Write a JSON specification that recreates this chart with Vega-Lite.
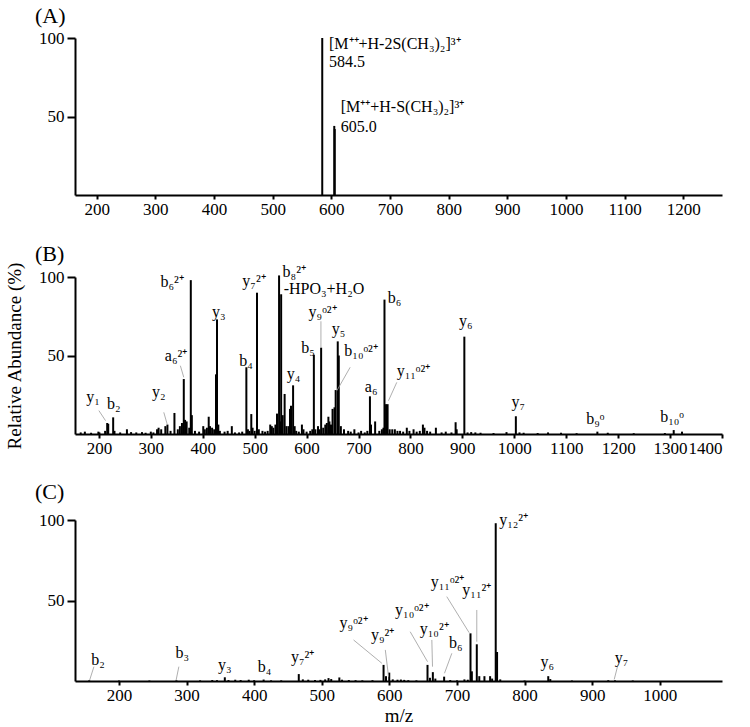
{
  "$schema": "https://vega.github.io/schema/vega-lite/v6.json",
  "padding": {"left": 5, "top": 5, "right": 5, "bottom": 0},
  "background": "white",
  "config": {
    "view": {"stroke": null},
    "font": "Liberation Serif",
    "axis": {"grid": false, "labelFont": "Liberation Serif", "labelFontSize": 17, "labelColor": "black", "domainColor": "black", "tickColor": "black", "domainWidth": 2, "tickWidth": 2, "titleFont": "Liberation Serif", "titleFontWeight": "normal", "titleColor": "black", "labelOverlap": false, "format": "d"},
    "axisX": {"tickSize": 4, "labelPadding": 2},
    "axisY": {"tickSize": 8, "labelPadding": 3},
    "title": {"font": "Liberation Serif", "fontWeight": "normal", "fontSize": 22, "color": "black", "anchor": "start", "frame": "group", "dx": -40, "baseline": "bottom"}
  },
  "datasets": {
    "peaksA": [
      {"mz": 584.5, "ab": 100}, {"mz": 605.0, "ab": 44}, {"mz": 605.8, "ab": 42}
    ],
    "labelsA": [
      {"mz": 596, "ab": 96, "t": "[M⁺⁺+H-2S(CH₃)₂]³⁺"},
      {"mz": 596, "ab": 84.5, "t": "584.5"},
      {"mz": 616, "ab": 56, "t": "[M⁺⁺+H-S(CH₃)₂]³⁺"},
      {"mz": 616, "ab": 43, "t": "605.0"}
    ],
    "peaksB": [
      {"mz": 165, "ab": 1}, {"mz": 173, "ab": 1.5}, {"mz": 185, "ab": 0.8}, {"mz": 199, "ab": 1.5}, {"mz": 201, "ab": 1},
      {"mz": 212, "ab": 2}, {"mz": 216, "ab": 7}, {"mz": 218, "ab": 6.5}, {"mz": 227.5, "ab": 10.6}, {"mz": 230, "ab": 2},
      {"mz": 241, "ab": 1}, {"mz": 254, "ab": 3}, {"mz": 262, "ab": 1.2}, {"mz": 272, "ab": 1}, {"mz": 283, "ab": 1.2},
      {"mz": 290, "ab": 0.8}, {"mz": 300, "ab": 1.5}, {"mz": 305, "ab": 1}, {"mz": 312, "ab": 3}, {"mz": 315, "ab": 4},
      {"mz": 320, "ab": 3}, {"mz": 328, "ab": 5}, {"mz": 332, "ab": 6}, {"mz": 338, "ab": 2}, {"mz": 345.5, "ab": 13.4},
      {"mz": 352, "ab": 3}, {"mz": 356, "ab": 5}, {"mz": 360, "ab": 7}, {"mz": 363.5, "ab": 35}, {"mz": 366, "ab": 9},
      {"mz": 369, "ab": 8}, {"mz": 374, "ab": 4}, {"mz": 377, "ab": 98}, {"mz": 379, "ab": 12}, {"mz": 385, "ab": 2},
      {"mz": 393, "ab": 1.5}, {"mz": 401, "ab": 5}, {"mz": 404, "ab": 3}, {"mz": 408, "ab": 4}, {"mz": 411.5, "ab": 11},
      {"mz": 414, "ab": 5}, {"mz": 418, "ab": 4}, {"mz": 422, "ab": 3}, {"mz": 425.5, "ab": 38}, {"mz": 427.5, "ab": 73},
      {"mz": 430, "ab": 6}, {"mz": 433, "ab": 2}, {"mz": 442, "ab": 1.5}, {"mz": 448, "ab": 2}, {"mz": 456, "ab": 5},
      {"mz": 462, "ab": 1}, {"mz": 470, "ab": 1}, {"mz": 476, "ab": 1.5}, {"mz": 484, "ab": 42.5}, {"mz": 487, "ab": 3},
      {"mz": 490, "ab": 2}, {"mz": 493.5, "ab": 12.7}, {"mz": 496, "ab": 4}, {"mz": 500, "ab": 2}, {"mz": 504.5, "ab": 90},
      {"mz": 508, "ab": 3}, {"mz": 515, "ab": 2}, {"mz": 520, "ab": 1.5}, {"mz": 525, "ab": 2}, {"mz": 530, "ab": 6},
      {"mz": 533, "ab": 5}, {"mz": 536, "ab": 4}, {"mz": 540, "ab": 6}, {"mz": 543, "ab": 13}, {"mz": 547, "ab": 101},
      {"mz": 549, "ab": 8}, {"mz": 551, "ab": 89}, {"mz": 554, "ab": 12}, {"mz": 557.7, "ab": 25.5}, {"mz": 561, "ab": 5},
      {"mz": 565, "ab": 5}, {"mz": 568, "ab": 16}, {"mz": 570, "ab": 18}, {"mz": 574, "ab": 31}, {"mz": 577, "ab": 5},
      {"mz": 580, "ab": 2}, {"mz": 585, "ab": 1.5}, {"mz": 591, "ab": 6}, {"mz": 594, "ab": 3}, {"mz": 600, "ab": 1.5},
      {"mz": 607, "ab": 2}, {"mz": 611, "ab": 3}, {"mz": 614, "ab": 50.5}, {"mz": 617, "ab": 3}, {"mz": 622, "ab": 5},
      {"mz": 625, "ab": 3}, {"mz": 628, "ab": 55}, {"mz": 632, "ab": 4}, {"mz": 636, "ab": 6}, {"mz": 639, "ab": 7},
      {"mz": 642, "ab": 11}, {"mz": 644, "ab": 8}, {"mz": 647, "ab": 6}, {"mz": 650, "ab": 16}, {"mz": 653.8, "ab": 17},
      {"mz": 656, "ab": 28}, {"mz": 660, "ab": 59}, {"mz": 662, "ab": 50}, {"mz": 666, "ab": 5}, {"mz": 672, "ab": 3},
      {"mz": 680, "ab": 2}, {"mz": 685, "ab": 1.5}, {"mz": 692, "ab": 3}, {"mz": 700, "ab": 1}, {"mz": 705, "ab": 2},
      {"mz": 712, "ab": 1}, {"mz": 717, "ab": 2}, {"mz": 722, "ab": 24}, {"mz": 724, "ab": 6}, {"mz": 732, "ab": 8},
      {"mz": 740, "ab": 2}, {"mz": 745, "ab": 3}, {"mz": 748, "ab": 4}, {"mz": 750, "ab": 85.6}, {"mz": 753, "ab": 19},
      {"mz": 756, "ab": 19}, {"mz": 760, "ab": 3}, {"mz": 765, "ab": 3}, {"mz": 770, "ab": 3}, {"mz": 775, "ab": 2},
      {"mz": 780, "ab": 2}, {"mz": 786, "ab": 1.5}, {"mz": 793, "ab": 4}, {"mz": 798, "ab": 2}, {"mz": 806, "ab": 3},
      {"mz": 812, "ab": 1.5}, {"mz": 818, "ab": 2}, {"mz": 824, "ab": 6}, {"mz": 827, "ab": 4}, {"mz": 832, "ab": 2},
      {"mz": 838, "ab": 1.5}, {"mz": 849, "ab": 4}, {"mz": 860, "ab": 1}, {"mz": 868, "ab": 1.5}, {"mz": 879, "ab": 1},
      {"mz": 887, "ab": 7.5}, {"mz": 889, "ab": 3}, {"mz": 903.8, "ab": 62}, {"mz": 910, "ab": 1}, {"mz": 917, "ab": 1.2},
      {"mz": 925, "ab": 1}, {"mz": 935, "ab": 0.8}, {"mz": 960, "ab": 0.6}, {"mz": 985, "ab": 1.2}, {"mz": 1003, "ab": 11.3},
      {"mz": 1010, "ab": 1}, {"mz": 1018, "ab": 0.8}, {"mz": 1045, "ab": 0.6}, {"mz": 1065, "ab": 1}, {"mz": 1090, "ab": 0.8},
      {"mz": 1120, "ab": 0.5}, {"mz": 1160, "ab": 1.5}, {"mz": 1180, "ab": 0.8}, {"mz": 1230, "ab": 0.5}, {"mz": 1290, "ab": 0.6},
      {"mz": 1307, "ab": 2.5}, {"mz": 1323, "ab": 1.5}
    ],
    "labelsB": [
      {"mz": 188.5, "ab": 23.8, "t": "y₁"},
      {"mz": 228.8, "ab": 19.1, "t": "b₂"},
      {"mz": 315.4, "ab": 26.5, "t": "y₂"},
      {"mz": 348.7, "ab": 49.9, "t": "a₆²⁺"},
      {"mz": 341, "ab": 96.6, "t": "b₆²⁺"},
      {"mz": 430.8, "ab": 77.5, "t": "y₃"},
      {"mz": 483.3, "ab": 46.7, "t": "b₄"},
      {"mz": 498.7, "ab": 97.2, "t": "y₇²⁺"},
      {"mz": 630.8, "ab": 78, "t": "y₉ᵒ²⁺"},
      {"mz": 602.6, "ab": 55, "t": "b₅"},
      {"mz": 661.5, "ab": 66.9, "t": "y₅"},
      {"mz": 705, "ab": 52.6, "t": "b₁₀ᵒ²⁺"},
      {"mz": 575, "ab": 38.2, "t": "y₄"},
      {"mz": 724.4, "ab": 29.7, "t": "a₆"},
      {"mz": 906.4, "ab": 72.2, "t": "y₆"},
      {"mz": 805.8, "ab": 39.9, "t": "y₁₁ᵒ²⁺"},
      {"mz": 1007.7, "ab": 20.2, "t": "y₇"},
      {"mz": 1156, "ab": 9.6, "t": "b₉ᵒ"},
      {"mz": 1303.8, "ab": 11, "t": "b₁₀ᵒ"}
    ],
    "labelsBL": [
      {"mz": 553.8, "ab": 103, "t": "b₈²⁺"},
      {"mz": 555.8, "ab": 92.4, "t": "-HPO₃+H₂O"},
      {"mz": 756.3, "ab": 86.6, "t": "b₆"}
    ],
    "leadersB": [
      {"mz": 200, "ab": 14.9, "mz2": 212.8, "ab2": 8.5},
      {"mz": 325, "ab": 13.8, "mz2": 331.4, "ab2": 6.4},
      {"mz": 356.9, "ab": 43.5, "mz2": 363.5, "ab2": 36.1},
      {"mz": 627.6, "ab": 71.8, "mz2": 627.6, "ab2": 55.2},
      {"mz": 683.9, "ab": 42.5, "mz2": 658.3, "ab2": 27.6},
      {"mz": 773.7, "ab": 32.9, "mz2": 757.7, "ab2": 21.2}
    ],
    "peaksC": [
      {"mz": 156, "ab": 0.4}, {"mz": 200, "ab": 0.3}, {"mz": 245, "ab": 0.3}, {"mz": 285, "ab": 0.4}, {"mz": 320, "ab": 0.4},
      {"mz": 338, "ab": 0.6}, {"mz": 345, "ab": 0.5}, {"mz": 356.6, "ab": 2.3}, {"mz": 362, "ab": 0.6}, {"mz": 372, "ab": 0.8},
      {"mz": 380, "ab": 0.6}, {"mz": 392, "ab": 0.8}, {"mz": 400, "ab": 0.5}, {"mz": 414, "ab": 0.9}, {"mz": 425, "ab": 0.4},
      {"mz": 440, "ab": 0.4}, {"mz": 466, "ab": 4.3}, {"mz": 472, "ab": 1}, {"mz": 480, "ab": 0.8}, {"mz": 490, "ab": 0.6},
      {"mz": 498, "ab": 0.7}, {"mz": 505, "ab": 1}, {"mz": 510, "ab": 1.8}, {"mz": 514, "ab": 1.2}, {"mz": 526, "ab": 2.2},
      {"mz": 530, "ab": 0.8}, {"mz": 540, "ab": 0.6}, {"mz": 550, "ab": 0.5}, {"mz": 560, "ab": 0.4}, {"mz": 575, "ab": 0.5},
      {"mz": 591.4, "ab": 10}, {"mz": 595, "ab": 3}, {"mz": 599.8, "ab": 5.2}, {"mz": 605, "ab": 1}, {"mz": 612, "ab": 0.8},
      {"mz": 617, "ab": 0.9}, {"mz": 622, "ab": 0.7}, {"mz": 628, "ab": 0.5}, {"mz": 640, "ab": 0.4}, {"mz": 656.4, "ab": 10},
      {"mz": 660, "ab": 2}, {"mz": 664.3, "ab": 5.5}, {"mz": 668, "ab": 1.5}, {"mz": 681, "ab": 2.7}, {"mz": 690, "ab": 0.6},
      {"mz": 700, "ab": 0.4}, {"mz": 711, "ab": 1}, {"mz": 716, "ab": 0.8}, {"mz": 720, "ab": 29.6}, {"mz": 722, "ab": 6},
      {"mz": 729.3, "ab": 22.8}, {"mz": 733, "ab": 3}, {"mz": 740.6, "ab": 3}, {"mz": 749, "ab": 3}, {"mz": 752, "ab": 1.5},
      {"mz": 757.3, "ab": 98}, {"mz": 759.3, "ab": 18}, {"mz": 764, "ab": 1}, {"mz": 800, "ab": 0.3}, {"mz": 835, "ab": 3},
      {"mz": 838, "ab": 1.2}, {"mz": 870, "ab": 0.3}, {"mz": 923.8, "ab": 0.5}, {"mz": 933.7, "ab": 0.4}, {"mz": 960, "ab": 0.3}
    ],
    "labelsC": [
      {"mz": 169, "ab": 13, "t": "b₂"},
      {"mz": 293.5, "ab": 17.2, "t": "b₃"},
      {"mz": 356.6, "ab": 9.9, "t": "y₃"},
      {"mz": 415.2, "ab": 8.9, "t": "b₄"},
      {"mz": 471.8, "ab": 14.7, "t": "y₇²⁺"},
      {"mz": 547, "ab": 35.8, "t": "y₉ᵒ²⁺"},
      {"mz": 590, "ab": 28.6, "t": "y₉²⁺"},
      {"mz": 633.3, "ab": 44.1, "t": "y₁₀ᵒ²⁺"},
      {"mz": 666.3, "ab": 32.1, "t": "y₁₀²⁺"},
      {"mz": 698.3, "ab": 23.4, "t": "b₆"},
      {"mz": 686, "ab": 61.7, "t": "y₁₁ᵒ²⁺"},
      {"mz": 729.3, "ab": 56.5, "t": "y₁₁²⁺"},
      {"mz": 833.7, "ab": 11.6, "t": "y₆"},
      {"mz": 943.5, "ab": 14.5, "t": "y₇"}
    ],
    "labelsCL": [
      {"mz": 762.4, "ab": 100, "t": "y₁₂²⁺"}
    ],
    "leadersC": [
      {"mz": 163, "ab": 8.9, "mz2": 156.7, "ab2": 0.6},
      {"mz": 288.6, "ab": 8.9, "mz2": 284.6, "ab2": 0.6},
      {"mz": 547, "ab": 25.5, "mz2": 588.9, "ab2": 11},
      {"mz": 594, "ab": 19.3, "mz2": 598.8, "ab2": 2.7},
      {"mz": 630.8, "ab": 30.6, "mz2": 656.4, "ab2": 12},
      {"mz": 662.8, "ab": 25.5, "mz2": 663.8, "ab2": 8.9},
      {"mz": 692.4, "ab": 17.2, "mz2": 681.5, "ab2": 4.8},
      {"mz": 684.9, "ab": 52.4, "mz2": 718, "ab2": 30},
      {"mz": 729.3, "ab": 44.1, "mz2": 729.3, "ab2": 24.4},
      {"mz": 937.4, "ab": 8.9, "mz2": 932.6, "ab2": 1}
    ]
  },
  "spacing": 25,
  "vconcat": [
    {
      "width": 647, "height": 157,
      "title": {"text": "(A)", "offset": 1},
      "encoding": {
        "x": {"field": "mz", "type": "quantitative", "title": null, "scale": {"domain": [163, 1266], "nice": false}, "axis": {"values": [200, 300, 400, 500, 600, 700, 800, 900, 1000, 1100, 1200]}},
        "y": {"field": "ab", "type": "quantitative", "title": null, "scale": {"domain": [0, 100], "nice": false}, "axis": {"values": [50, 100]}}
      },
      "layer": [
        {
          "data": {"name": "peaksA"},
          "mark": {"type": "rule", "color": "black", "strokeWidth": 2},
          "encoding": {"y2": {"datum": 0}}
        },
        {
          "data": {"name": "labelsA"},
          "mark": {"type": "text", "align": "left", "baseline": "middle", "fontSize": 16, "color": "black", "font": "Liberation Serif"},
          "encoding": {"text": {"field": "t"}}
        }
      ]
    },
    {
      "width": 647, "height": 157,
      "title": {"text": "(B)", "offset": -4},
      "encoding": {
        "x": {"field": "mz", "type": "quantitative", "title": null, "scale": {"domain": [154, 1400], "nice": false}, "axis": {"values": [200, 300, 400, 500, 600, 700, 800, 900, 1000, 1100, 1200, 1300, 1400]}},
        "y": {"field": "ab", "type": "quantitative", "title": "Relative Abundance (%)", "scale": {"domain": [0, 100], "nice": false}, "axis": {"values": [50, 100], "titleFontSize": 19, "titlePadding": 14}}
      },
      "layer": [
        {
          "data": {"name": "peaksB"},
          "mark": {"type": "rule", "color": "black", "strokeWidth": 2},
          "encoding": {"y2": {"datum": 0}}
        },
        {
          "data": {"name": "leadersB"},
          "mark": {"type": "rule", "color": "#9a9a9a", "strokeWidth": 0.8},
          "encoding": {"x2": {"field": "mz2", "title": null}, "y2": {"field": "ab2", "title": null}}
        },
        {
          "data": {"name": "labelsB"},
          "mark": {"type": "text", "align": "center", "baseline": "middle", "fontSize": 16, "color": "black", "font": "Liberation Serif"},
          "encoding": {"text": {"field": "t"}}
        },
        {
          "data": {"name": "labelsBL"},
          "mark": {"type": "text", "align": "left", "baseline": "middle", "fontSize": 16, "color": "black", "font": "Liberation Serif"},
          "encoding": {"text": {"field": "t"}}
        }
      ]
    },
    {
      "width": 647, "height": 161,
      "title": {"text": "(C)", "offset": 7},
      "encoding": {
        "x": {"field": "mz", "type": "quantitative", "title": "m/z", "scale": {"domain": [135, 1092], "nice": false}, "axis": {"values": [200, 300, 400, 500, 600, 700, 800, 900, 1000], "titleFontSize": 19, "titlePadding": 3}},
        "y": {"field": "ab", "type": "quantitative", "title": null, "scale": {"domain": [0, 100], "nice": false}, "axis": {"values": [50, 100]}}
      },
      "layer": [
        {
          "data": {"name": "peaksC"},
          "mark": {"type": "rule", "color": "black", "strokeWidth": 2},
          "encoding": {"y2": {"datum": 0}}
        },
        {
          "data": {"name": "leadersC"},
          "mark": {"type": "rule", "color": "#9a9a9a", "strokeWidth": 0.8},
          "encoding": {"x2": {"field": "mz2", "title": null}, "y2": {"field": "ab2", "title": null}}
        },
        {
          "data": {"name": "labelsC"},
          "mark": {"type": "text", "align": "center", "baseline": "middle", "fontSize": 16, "color": "black", "font": "Liberation Serif"},
          "encoding": {"text": {"field": "t"}}
        },
        {
          "data": {"name": "labelsCL"},
          "mark": {"type": "text", "align": "left", "baseline": "middle", "fontSize": 16, "color": "black", "font": "Liberation Serif"},
          "encoding": {"text": {"field": "t"}}
        }
      ]
    }
  ]
}
